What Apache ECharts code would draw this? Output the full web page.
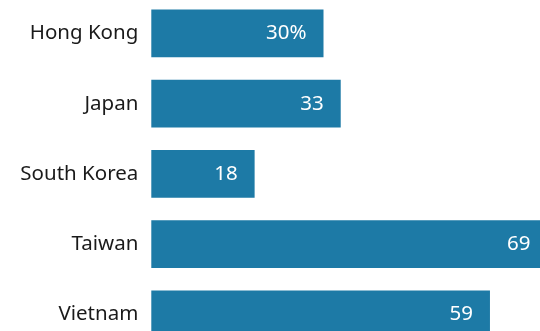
<!DOCTYPE html>
<html>
<head>
<meta charset="utf-8">
<script src="https://cdn.jsdelivr.net/npm/echarts@6/dist/echarts.min.js"></script>
<style>
  html, body { margin: 0; padding: 0; background: #ffffff; }
  #chart { width: 540px; height: 331px; }
</style>
</head>
<body>
<div id="chart"></div>
<script>
// Share of respondents by economy (percent)
const categories = ['Hong Kong', 'Japan', 'South Korea', 'Taiwan', 'Vietnam'];
const values = [30, 33, 18, 69, 59];
const valueLabels = ['30%', '33', '18', '69', '59'];

const chart = echarts.init(document.getElementById('chart'), null, { renderer: 'canvas' });

const FONT = '"Noto Sans", "Open Sans", Arial, sans-serif';

chart.setOption({
  animation: false,
  grid: {
    left: 151.3, top: -1.7, width: 459.2, height: 351.3,
    containLabel: false,
    outerBoundsMode: 'none'
  },
  xAxis: {
    type: 'value', min: 0, max: 80, show: false
  },
  yAxis: {
    type: 'category',
    data: categories,
    inverse: true,
    axisLine: { show: false },
    axisTick: { show: false },
    splitLine: { show: false },
    axisLabel: {
      margin: 13,
      color: '#1a1a1a',
      fontSize: 20.5,
      fontFamily: FONT
    }
  },
  series: [{
    type: 'bar',
    data: values,
    barWidth: 47.7,
    itemStyle: { color: '#1d7aa6' },
    label: {
      show: true,
      position: 'insideRight',
      distance: 17,
      color: '#ffffff',
      fontSize: 20.5,
      fontFamily: FONT,
      formatter: p => valueLabels[p.dataIndex]
    }
  }]
});
</script>
</body>
</html>
